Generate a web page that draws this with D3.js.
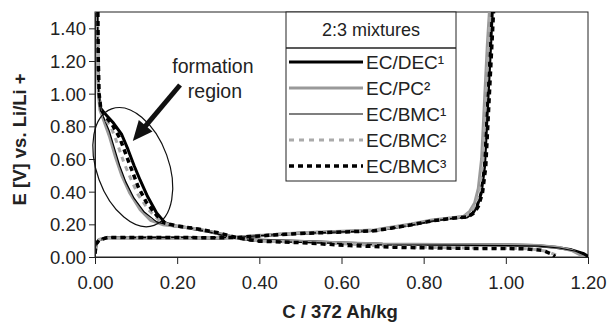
<!DOCTYPE html>
<html>
<head>
<meta charset="utf-8">
<script src="https://cdn.jsdelivr.net/npm/d3@7"></script>
<style>
  body { margin: 0; background: #fff; }
  svg { font-family: "Liberation Sans", Arial, sans-serif; }
</style>
</head>
<body>
<div id="chart"></div>
<script>
// tick values
const xTicks = [0, 0.2, 0.4, 0.6, 0.8, 1.0, 1.2];
const yTicks = [0, 0.2, 0.4, 0.6, 0.8, 1.0, 1.2, 1.4];

// series names (legend order)
const seriesNames = ["EC/DEC¹", "EC/PC²", "EC/BMC¹", "EC/BMC²", "EC/BMC³"];

// discharge (lithiation) branches, [C, E]
const dischargeDEC1 = [[0.006,1.5],[0.007,1.2],[0.009,1.0],[0.014,0.91],[0.025,0.875],[0.045,0.82],[0.065,0.75],[0.08,0.66],[0.095,0.56],[0.11,0.47],[0.128,0.37],[0.15,0.27],[0.17,0.21],[0.19,0.192],[0.23,0.178],[0.28,0.155],[0.33,0.125],[0.38,0.104],[0.45,0.1],[0.53,0.094],[0.6,0.086],[0.7,0.078],[0.85,0.076],[1.0,0.074],[1.07,0.07],[1.12,0.06],[1.16,0.044],[1.19,0.02],[1.2,0.004]];
const dischargePC2 = [[0.005,1.5],[0.006,1.2],[0.008,1.0],[0.012,0.9],[0.02,0.845],[0.035,0.74],[0.05,0.61],[0.065,0.5],[0.085,0.39],[0.11,0.29],[0.135,0.225],[0.165,0.198],[0.2,0.188],[0.25,0.172],[0.3,0.145],[0.35,0.115],[0.4,0.1],[0.5,0.095],[0.6,0.088],[0.7,0.08],[0.85,0.077],[1.0,0.075],[1.08,0.07],[1.13,0.058],[1.16,0.04],[1.18,0.015],[1.19,0.003]];
const dischargeBMC1 = [[0.006,1.5],[0.007,1.2],[0.009,1.0],[0.013,0.9],[0.02,0.862],[0.035,0.77],[0.048,0.66],[0.06,0.56],[0.075,0.46],[0.095,0.36],[0.12,0.275],[0.15,0.215],[0.18,0.195],[0.23,0.18],[0.28,0.152],[0.33,0.12],[0.38,0.1],[0.45,0.092],[0.55,0.086],[0.7,0.075],[0.85,0.073],[1.0,0.07],[1.08,0.066],[1.13,0.055],[1.17,0.035],[1.2,0.002]];
const dischargeBMC2 = [[0.006,1.5],[0.007,1.2],[0.009,1.0],[0.013,0.9],[0.02,0.865],[0.04,0.79],[0.055,0.69],[0.07,0.58],[0.087,0.48],[0.105,0.38],[0.13,0.29],[0.16,0.215],[0.19,0.19],[0.24,0.175],[0.29,0.15],[0.34,0.118],[0.4,0.098],[0.5,0.09],[0.6,0.082],[0.75,0.062],[0.9,0.055],[1.0,0.054],[1.06,0.05],[1.1,0.035],[1.12,0.015],[1.13,0.002]];
const dischargeBMC3 = [[0.007,1.5],[0.008,1.2],[0.01,1.0],[0.014,0.91],[0.022,0.872],[0.042,0.81],[0.06,0.73],[0.075,0.63],[0.09,0.53],[0.105,0.43],[0.125,0.335],[0.15,0.255],[0.17,0.208],[0.2,0.19],[0.25,0.172],[0.3,0.148],[0.35,0.115],[0.4,0.097],[0.5,0.088],[0.62,0.07],[0.75,0.058],[0.9,0.053],[1.0,0.052],[1.05,0.05],[1.09,0.04],[1.11,0.02],[1.12,0.003]];

// charge (delithiation) branches, [C, E]
const chargeDEC1 = [[0,0.02],[0.003,0.08],[0.01,0.105],[0.03,0.12],[0.1,0.118],[0.2,0.118],[0.3,0.117],[0.35,0.12],[0.4,0.13],[0.5,0.146],[0.6,0.155],[0.68,0.162],[0.72,0.178],[0.77,0.198],[0.82,0.222],[0.87,0.238],[0.905,0.245],[0.92,0.27],[0.93,0.31],[0.94,0.39],[0.948,0.55],[0.956,0.95],[0.963,1.3],[0.967,1.5]];
const chargePC2 = [[0,0.03],[0.003,0.085],[0.01,0.108],[0.03,0.118],[0.1,0.116],[0.2,0.117],[0.3,0.118],[0.35,0.122],[0.4,0.132],[0.5,0.148],[0.6,0.158],[0.68,0.166],[0.72,0.182],[0.77,0.202],[0.82,0.226],[0.87,0.24],[0.898,0.25],[0.912,0.28],[0.924,0.33],[0.933,0.42],[0.941,0.6],[0.948,0.95],[0.955,1.3],[0.96,1.5]];
const chargeBMC1 = [[0,0.025],[0.003,0.082],[0.01,0.106],[0.03,0.12],[0.1,0.119],[0.2,0.12],[0.3,0.119],[0.35,0.121],[0.4,0.131],[0.5,0.145],[0.6,0.154],[0.68,0.161],[0.72,0.176],[0.77,0.196],[0.82,0.22],[0.87,0.236],[0.902,0.244],[0.918,0.27],[0.928,0.31],[0.938,0.39],[0.946,0.55],[0.954,0.95],[0.961,1.3],[0.965,1.5]];
const chargeBMC2 = [[0,0.035],[0.003,0.084],[0.01,0.107],[0.03,0.117],[0.1,0.117],[0.2,0.116],[0.3,0.118],[0.35,0.121],[0.4,0.133],[0.5,0.147],[0.6,0.157],[0.68,0.164],[0.72,0.18],[0.77,0.2],[0.82,0.224],[0.87,0.239],[0.9,0.248],[0.915,0.275],[0.926,0.32],[0.936,0.4],[0.944,0.58],[0.951,0.95],[0.958,1.3],[0.962,1.5]];
const chargeBMC3 = [[0,0.022],[0.003,0.08],[0.01,0.104],[0.03,0.119],[0.1,0.12],[0.2,0.119],[0.3,0.118],[0.35,0.12],[0.4,0.129],[0.5,0.144],[0.6,0.153],[0.68,0.16],[0.72,0.176],[0.77,0.197],[0.82,0.221],[0.87,0.237],[0.908,0.246],[0.923,0.27],[0.933,0.31],[0.943,0.39],[0.951,0.55],[0.959,0.95],[0.966,1.3],[0.97,1.5]];

const discharges = [dischargeDEC1, dischargePC2, dischargeBMC1, dischargeBMC2, dischargeBMC3];
const charges = [chargeDEC1, chargePC2, chargeBMC1, chargeBMC2, chargeBMC3];

const styles = [
    { color: "#000", width: 3, dash: null },
    { color: "#999", width: 3, dash: null },
    { color: "#000", width: 1.2, dash: null },
    { color: "#aaa", width: 3, dash: "5,5" },
    { color: "#000", width: 3.5, dash: "5,4" }
];

const width = 610, height = 325, margin = { top: 12, right: 22, bottom: 68, left: 95 };

const svg = d3.select("#chart")
    .append("svg")
    .attr("width", width)
    .attr("height", height);

const x = d3.scaleLinear()
    .domain([0, 1.2])
    .range([margin.left, width - margin.right]);

const y = d3.scaleLinear()
    .domain([0, 1.5])
    .range([height - margin.bottom, margin.top]);

const line = d3.line()
    .x(d => x(d[0]))
    .y(d => y(d[1]));

// plot frame
svg.append("rect")
    .attr("x", x(0))
    .attr("y", y(1.5))
    .attr("width", x(1.2) - x(0))
    .attr("height", y(0) - y(1.5))
    .attr("fill", "none")
    .attr("stroke", "#222")
    .attr("stroke-width", 1);

// curves
svg.append("clipPath").attr("id", "plot-clip")
    .append("rect")
    .attr("x", x(0))
    .attr("y", y(1.5))
    .attr("width", x(1.2) - x(0))
    .attr("height", y(0) - y(1.5));

const curves = svg.append("g").attr("clip-path", "url(#plot-clip)");

seriesNames.forEach((name, i) => {
    [discharges[i], charges[i]].forEach(branch => {
        curves.append("path")
            .datum(branch)
            .attr("d", line)
            .attr("fill", "none")
            .attr("stroke", styles[i].color)
            .attr("stroke-width", styles[i].width)
            .attr("stroke-dasharray", styles[i].dash)
            .attr("stroke-linejoin", "round");
    });
});

// axes
const xAxis = svg.append("g")
    .attr("transform", `translate(0, ${y(0)})`)
    .call(d3.axisBottom(x).tickValues(xTicks).tickFormat(d3.format(".2f")).tickSize(7).tickSizeOuter(0));

const yAxis = svg.append("g")
    .attr("transform", `translate(${x(0)}, 0)`)
    .call(d3.axisLeft(y).tickValues(yTicks).tickFormat(d3.format(".2f")).tickSize(6).tickSizeOuter(0));

[xAxis, yAxis].forEach(g => {
    g.select(".domain").attr("stroke", "#222");
    g.selectAll(".tick line").attr("stroke", "#222");
    g.selectAll(".tick text")
        .attr("font-family", "Liberation Sans, Arial, sans-serif")
        .attr("font-size", "18.5px")
        .attr("fill", "#222");
});
xAxis.selectAll(".tick text").attr("dy", "1.2em");
yAxis.selectAll(".tick text").attr("x", -9).attr("dy", "0.35em");

// axis titles
svg.append("text")
    .attr("x", 340)
    .attr("y", 318)
    .attr("text-anchor", "middle")
    .attr("font-size", "18.5px")
    .attr("font-weight", "bold")
    .attr("fill", "#222")
    .text("C / 372 Ah/kg");

svg.append("text")
    .attr("transform", `translate(26, ${y(0.72)}) rotate(-90)`)
    .attr("text-anchor", "middle")
    .attr("font-size", "18.5px")
    .attr("font-weight", "bold")
    .attr("fill", "#222")
    .text("E [V] vs. Li/Li +");

// formation region annotation
svg.append("ellipse")
    .attr("transform", `translate(${x(0.092)}, ${y(0.55)}) rotate(70)`)
    .attr("rx", 62)
    .attr("ry", 36)
    .attr("fill", "none")
    .attr("stroke", "#111")
    .attr("stroke-width", 1.2);

const tail = [x(0.207), y(1.053)], tip = [x(0.092), y(0.71)];
const dx = tip[0] - tail[0], dy = tip[1] - tail[1];
const len = Math.hypot(dx, dy), ux = dx / len, uy = dy / len;
const headLen = 20, headHalf = 9;
const base = [tip[0] - ux * headLen, tip[1] - uy * headLen];

svg.append("line")
    .attr("x1", tail[0]).attr("y1", tail[1])
    .attr("x2", base[0] + ux * 2).attr("y2", base[1] + uy * 2)
    .attr("stroke", "#111")
    .attr("stroke-width", 5);

svg.append("path")
    .attr("d", d3.line()([
        tip,
        [base[0] - uy * headHalf, base[1] + ux * headHalf],
        [base[0] + uy * headHalf, base[1] - ux * headHalf]
    ]) + "Z")
    .attr("fill", "#111");

svg.append("text")
    .attr("x", x(0.287))
    .attr("y", y(1.127))
    .attr("text-anchor", "middle")
    .attr("font-size", "19.5px")
    .attr("fill", "#222")
    .text("formation");

svg.append("text")
    .attr("x", x(0.292))
    .attr("y", y(0.974))
    .attr("text-anchor", "middle")
    .attr("font-size", "19.5px")
    .attr("fill", "#222")
    .text("region");

// legend
const legendX = 286, legendY = 12, legendW = 170, legendH = 169, headerH = 36;

const legend = svg.append("g")
    .attr("transform", `translate(${legendX}, ${legendY})`);

legend.append("rect")
    .attr("width", legendW)
    .attr("height", legendH)
    .attr("fill", "#fff")
    .attr("stroke", "#222")
    .attr("stroke-width", 1);

legend.append("line")
    .attr("x1", 0).attr("x2", legendW)
    .attr("y1", headerH).attr("y2", headerH)
    .attr("stroke", "#222")
    .attr("stroke-width", 1.5);

legend.append("text")
    .attr("x", legendW / 2)
    .attr("y", 24)
    .attr("text-anchor", "middle")
    .attr("font-size", "18px")
    .attr("fill", "#222")
    .text("2:3 mixtures");

const items = legend.selectAll("g.item")
    .data(seriesNames)
    .enter()
    .append("g")
    .attr("transform", (d, i) => `translate(0, ${50 + i * 26})`);

items.append("line")
    .attr("x1", 3)
    .attr("x2", 77)
    .attr("stroke", (d, i) => styles[i].color)
    .attr("stroke-width", (d, i) => styles[i].width)
    .attr("stroke-dasharray", (d, i) => styles[i].dash);

items.append("text")
    .attr("x", 80)
    .attr("dy", "0.36em")
    .attr("font-size", "19px")
    .attr("fill", "#222")
    .text(d => d);
</script>
</body>
</html>
